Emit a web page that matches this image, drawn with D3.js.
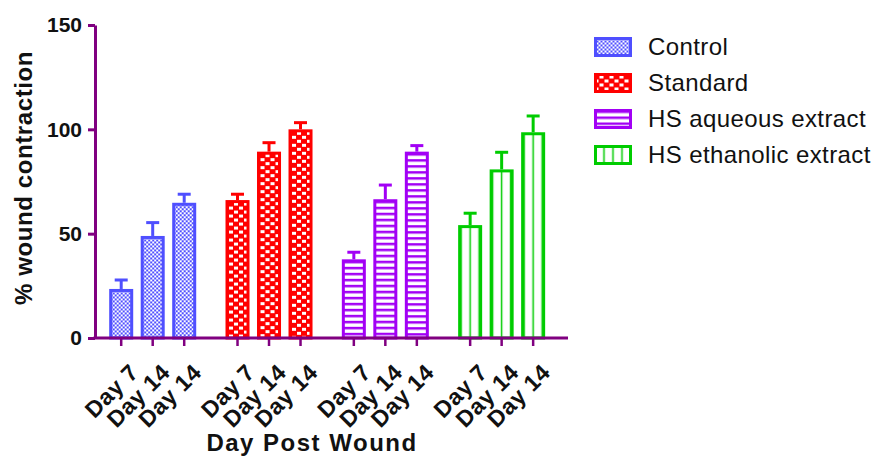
<!DOCTYPE html>
<html><head><meta charset="utf-8">
<script src="https://cdn.jsdelivr.net/npm/d3@7/dist/d3.min.js"></script>
<style>
html,body{margin:0;padding:0;background:#fff;}
svg{display:block;font-family:Arial,"Liberation Sans",sans-serif;}
</style></head>
<body>
<svg id="chart" width="877" height="456"></svg>
<script>
const groups = ["Control", "Standard", "HS aqueous extract", "HS ethanolic extract"];
const days = ["Day 7", "Day 14", "Day 14"];
const controlVals = [23.5, 48.9, 64.8];
const controlErr = [4.3, 6.4, 4.1];
const standardVals = [66.1, 89.3, 100.0];
const standardErr = [2.8, 4.3, 3.2];
const aqueousVals = [37.7, 66.5, 89.3];
const aqueousErr = [3.4, 6.8, 2.9];
const ethanolicVals = [54.1, 80.8, 98.6];
const ethanolicErr = [5.7, 8.2, 7.8];
const yTicks = [0, 50, 100, 150];

const colors = ["#4f4fff", "#ff0000", "#a200f5", "#00cc00"];
const values = [controlVals, standardVals, aqueousVals, ethanolicVals];
const errs = [controlErr, standardErr, aqueousErr, ethanolicErr];

const svg = d3.select("#chart");
const axisColor = "#800080";
const y = d3.scaleLinear().domain([0, 150]).range([338, 25]);
const x0 = d3.scaleBand().domain(groups).range([105.45, 548.9]).paddingInner(0.1875).paddingOuter(0);
const x1 = d3.scaleBand().domain([0, 1, 2]).range([0, x0.bandwidth()]).paddingInner(0.238).paddingOuter(0.119);

const defs = svg.append("defs");
function makePattern(id, g, ox, oy) {
  const c = colors[g];
  let p;
  if (g === 0) {
    p = defs.append("pattern").attr("id", id).attr("patternUnits", "userSpaceOnUse")
      .attr("width", 4).attr("height", 4).attr("patternTransform", `translate(${ox},${oy})`);
    p.append("rect").attr("width", 4).attr("height", 4).attr("fill", c);
    p.append("rect").attr("x", 0).attr("y", 0).attr("width", 2).attr("height", 2).attr("fill", "#fff");
    p.append("rect").attr("x", 2).attr("y", 2).attr("width", 2).attr("height", 2).attr("fill", "#fff");
  } else if (g === 1) {
    p = defs.append("pattern").attr("id", id).attr("patternUnits", "userSpaceOnUse")
      .attr("width", 10).attr("height", 8).attr("patternTransform", `translate(${ox},${oy})`);
    p.append("rect").attr("width", 10).attr("height", 8).attr("fill", c);
    p.append("rect").attr("x", 1).attr("y", 1).attr("width", 4).attr("height", 3).attr("fill", "#fff");
    p.append("rect").attr("x", 6).attr("y", 5).attr("width", 4).attr("height", 3).attr("fill", "#fff");
  } else if (g === 2) {
    p = defs.append("pattern").attr("id", id).attr("patternUnits", "userSpaceOnUse")
      .attr("width", 10).attr("height", 6).attr("patternTransform", `translate(${ox},${oy})`);
    p.append("rect").attr("width", 10).attr("height", 6).attr("fill", c);
    p.append("rect").attr("x", 0).attr("y", 2.5).attr("width", 10).attr("height", 3.5).attr("fill", "#fff");
  } else {
    p = defs.append("pattern").attr("id", id).attr("patternUnits", "userSpaceOnUse")
      .attr("width", 9).attr("height", 10).attr("patternTransform", `translate(${ox},${oy})`);
    p.append("rect").attr("width", 9).attr("height", 10).attr("fill", "#fff");
    p.append("rect").attr("x", 3.75).attr("y", 0).attr("width", 1.5).attr("height", 10).attr("fill", c);
  }
}

// bars
const barW = x1.bandwidth();
groups.forEach((gName, g) => {
  const gx = x0(gName);
  values[g].forEach((v, i) => {
    const cx = gx + x1(i) + barW / 2;
    const left = gx + x1(i) + 1.5;
    const top = y(v) + 1.5;
    const id = `pat-${g}-${i}`;
    makePattern(id, g, cx - 4.5, top);
    const yt = y(v + errs[g][i]);
    svg.append("line").attr("x1", cx).attr("x2", cx).attr("y1", y(v)).attr("y2", yt)
      .attr("stroke", colors[g]).attr("stroke-width", 3);
    svg.append("line").attr("x1", cx - 6.5).attr("x2", cx + 6.5).attr("y1", yt).attr("y2", yt)
      .attr("stroke", colors[g]).attr("stroke-width", 3);
    svg.append("rect").attr("x", left).attr("y", top)
      .attr("width", barW - 3).attr("height", y(0) - top)
      .attr("fill", `url(#${id})`).attr("stroke", colors[g]).attr("stroke-width", 3);
  });
});

// y axis
const yAxis = svg.append("g").attr("transform", "translate(95,0)")
  .call(d3.axisLeft(y).tickValues(yTicks).tickSize(7).tickSizeOuter(0).tickPadding(6));
yAxis.select(".domain").attr("stroke", axisColor).attr("stroke-width", 3);
yAxis.selectAll(".tick line").attr("stroke", axisColor).attr("stroke-width", 3);
yAxis.selectAll(".tick text").attr("fill", "#111").attr("font-size", 21).attr("font-weight", "bold")
  .attr("font-family", "Arial, 'Liberation Sans', sans-serif");

// x axis
svg.append("line").attr("x1", 93.5).attr("x2", 568).attr("y1", y(0)).attr("y2", y(0))
  .attr("stroke", axisColor).attr("stroke-width", 3);
groups.forEach((gName, g) => {
  days.forEach((d, i) => {
    const cx = x0(gName) + x1(i) + barW / 2;
    svg.append("line").attr("x1", cx).attr("x2", cx).attr("y1", y(0)).attr("y2", y(0) + 8)
      .attr("stroke", axisColor).attr("stroke-width", 2.5);
    svg.append("text").attr("transform", `translate(${cx + 13},${y(0) + 30}) rotate(-45)`)
      .attr("text-anchor", "end").attr("dy", "0.35em").attr("letter-spacing", 0.6)
      .attr("font-size", 23).attr("font-weight", "bold").attr("fill", "#111").text(d);
  });
});

// axis titles
svg.append("text").attr("x", 312).attr("y", 451).attr("text-anchor", "middle")
  .attr("font-size", 24).attr("font-weight", "bold").attr("letter-spacing", 1.5).attr("fill", "#111")
  .text("Day Post Wound");
svg.append("text").attr("transform", "translate(32,178) rotate(-90)").attr("text-anchor", "middle")
  .attr("font-size", 24).attr("font-weight", "bold").attr("letter-spacing", 0.6).attr("fill", "#111")
  .text("% wound contraction");

// legend
groups.forEach((gName, g) => {
  const cy = 47 + g * 36;
  const id = `leg-${g}`;
  makePattern(id, g, 613 - 4.5, cy - 8.5);
  svg.append("rect").attr("x", 595.5).attr("y", cy - 8.5).attr("width", 35).attr("height", 17)
    .attr("fill", `url(#${id})`).attr("stroke", colors[g]).attr("stroke-width", 3);
  svg.append("text").attr("x", 648).attr("y", cy).attr("dy", "0.35em").attr("letter-spacing", 0.4)
    .attr("font-size", 24).attr("fill", "#111").text(gName);
});
</script>
</body></html>
